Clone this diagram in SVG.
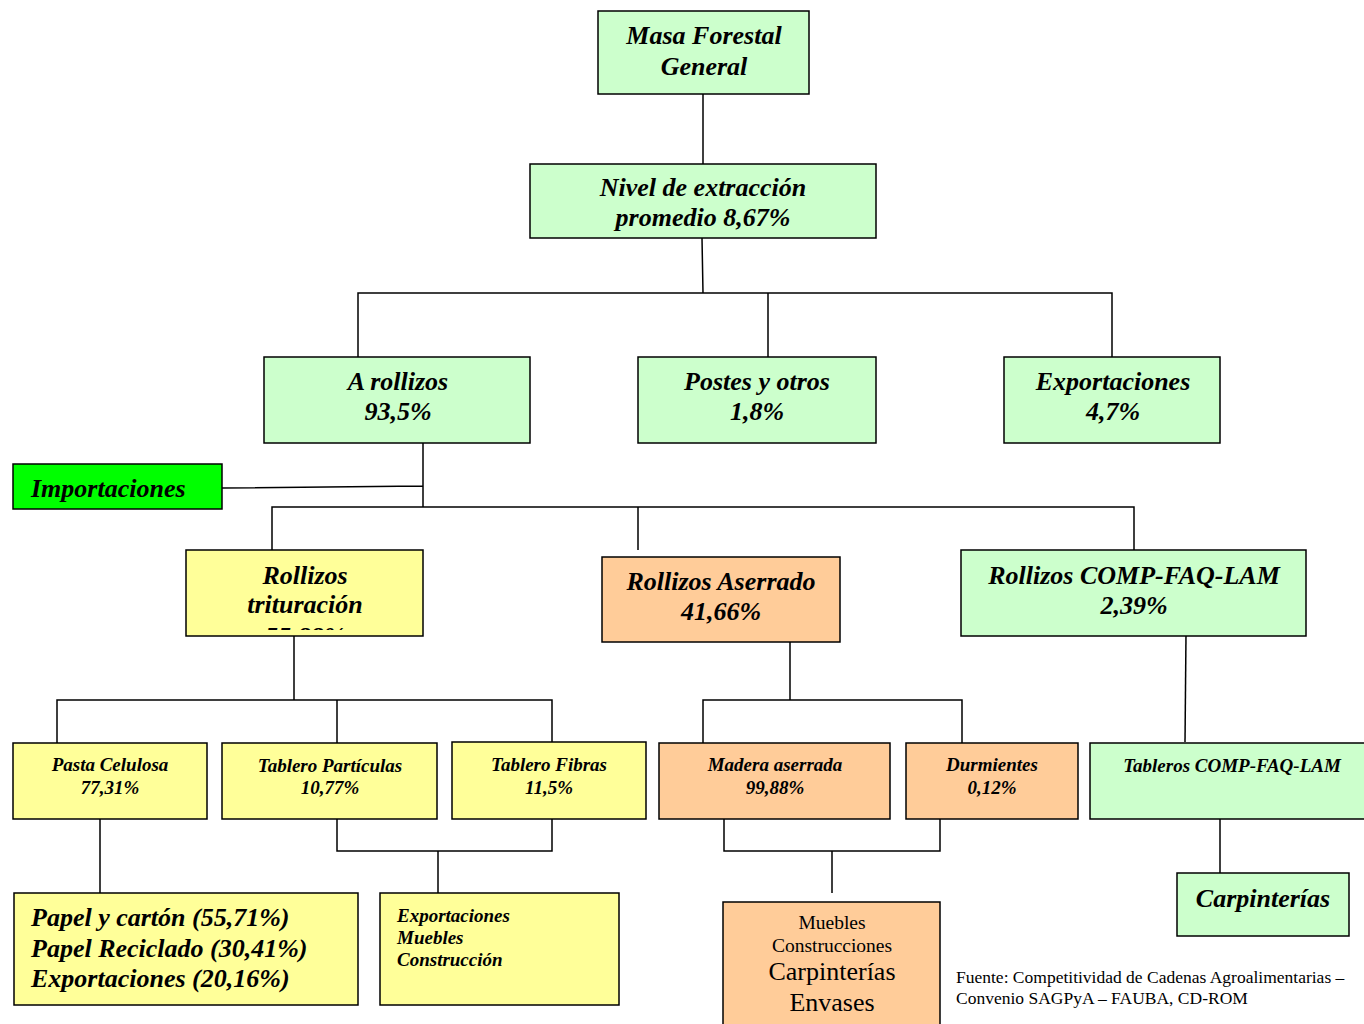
<svg xmlns="http://www.w3.org/2000/svg" width="1364" height="1024" viewBox="0 0 1364 1024">
<style>
.n{stroke:#000;stroke-width:1.5}
.g{fill:#CCFFCC}.y{fill:#FFFF99}.o{fill:#FFCC99}.b{fill:#00FF00}
.t{font-family:"Liberation Serif",serif;font-weight:bold;font-style:italic;fill:#000}
.L{font-size:26px}.S{font-size:19px}
.c{stroke:#000;stroke-width:1.5;fill:none}
.r{font-family:"Liberation Serif",serif;fill:#000}
</style>
<defs><clipPath id="clipTrit"><rect x="186" y="550" width="237" height="80"/></clipPath></defs>
<g id="connectors" class="c">
<path d="M703,94V164M702,238L703,293M358,357V293H1112V357M768,293V357"/>
<path d="M423,443V507M222,488L423,486M272,550V507H1134V550M638,507V550"/>
<path d="M294,636V700M57,743V700H552V743M337,700V743"/>
<path d="M790,637V700M703,743V700H962V743"/>
<path d="M1186,634L1185,742"/>
<path d="M100,808V893M337,808V851H552V808M438,851V893"/>
<path d="M724,808V851H940V808M832,851V893"/>
<path d="M1220,808V873"/>
</g>
<g id="masa"><rect class="n g" x="598" y="11" width="211" height="83"/><text class="t L" text-anchor="middle" x="704" y="44">Masa Forestal</text><text class="t L" text-anchor="middle" x="704" y="75">General</text></g>
<g id="nivel"><rect class="n g" x="530" y="164" width="346" height="74"/><text class="t L" text-anchor="middle" x="703" y="196">Nivel de extracción</text><text class="t L" text-anchor="middle" x="703" y="226">promedio 8,67%</text></g>
<g id="arollizos"><rect class="n g" x="264" y="357" width="266" height="86"/><text class="t L" text-anchor="middle" x="398" y="390">A rollizos</text><text class="t L" text-anchor="middle" x="398" y="420">93,5%</text></g>
<g id="postes"><rect class="n g" x="638" y="357" width="238" height="86"/><text class="t L" text-anchor="middle" x="757" y="390">Postes y otros</text><text class="t L" text-anchor="middle" x="757" y="420">1,8%</text></g>
<g id="export1"><rect class="n g" x="1004" y="357" width="216" height="86"/><text class="t L" text-anchor="middle" x="1113" y="390">Exportaciones</text><text class="t L" text-anchor="middle" x="1113" y="420">4,7%</text></g>
<g id="importaciones"><rect class="n b" x="13" y="464" width="209" height="45"/><text class="t L" x="31" y="497">Importaciones</text></g>
<g id="trituracion"><rect class="n y" x="186" y="550" width="237" height="86"/><g clip-path="url(#clipTrit)"><text class="t L" text-anchor="middle" x="305" y="584">Rollizos</text><text class="t L" text-anchor="middle" x="305" y="613">trituración</text><text class="t L" text-anchor="middle" x="305" y="645">55,88%</text></g></g>
<g id="aserrado"><rect class="n o" x="602" y="557" width="238" height="85"/><text class="t L" text-anchor="middle" x="721" y="590">Rollizos Aserrado</text><text class="t L" text-anchor="middle" x="721" y="620">41,66%</text></g>
<g id="comp"><rect class="n g" x="961" y="550" width="345" height="86"/><text class="t L" text-anchor="middle" x="1134" y="584">Rollizos COMP-FAQ-LAM</text><text class="t L" text-anchor="middle" x="1134" y="614">2,39%</text></g>
<g id="pasta"><rect class="n y" x="13" y="743" width="194" height="76"/><text class="t S" text-anchor="middle" x="110" y="771">Pasta Celulosa</text><text class="t S" text-anchor="middle" x="110" y="794">77,31%</text></g>
<g id="particulas"><rect class="n y" x="222" y="743" width="215" height="76"/><text class="t S" text-anchor="middle" x="330" y="772">Tablero Partículas</text><text class="t S" text-anchor="middle" x="330" y="794">10,77%</text></g>
<g id="fibras"><rect class="n y" x="452" y="742" width="194" height="77"/><text class="t S" text-anchor="middle" x="549" y="771">Tablero Fibras</text><text class="t S" text-anchor="middle" x="549" y="794">11,5%</text></g>
<g id="madera"><rect class="n o" x="659" y="743" width="231" height="76"/><text class="t S" text-anchor="middle" x="775" y="771">Madera aserrada</text><text class="t S" text-anchor="middle" x="775" y="794">99,88%</text></g>
<g id="durmientes"><rect class="n o" x="906" y="743" width="172" height="76"/><text class="t S" text-anchor="middle" x="992" y="771">Durmientes</text><text class="t S" text-anchor="middle" x="992" y="794">0,12%</text></g>
<g id="tableros"><rect class="n g" x="1090" y="743" width="280" height="76"/><text class="t S" text-anchor="middle" x="1232" y="772">Tableros COMP-FAQ-LAM</text></g>
<g id="papel"><rect class="n y" x="14" y="893" width="344" height="112"/><text class="t L" x="31" y="926">Papel y cartón (55,71%)</text><text class="t L" x="31" y="957">Papel Reciclado (30,41%)</text><text class="t L" x="31" y="987">Exportaciones (20,16%)</text></g>
<g id="exportmuebles"><rect class="n y" x="380" y="893" width="239" height="112"/><text class="t S" x="397" y="922">Exportaciones</text><text class="t S" x="397" y="944">Muebles</text><text class="t S" x="397" y="966">Construcción</text></g>
<g id="muebles"><rect class="n o" x="723" y="902" width="217" height="130"/><text class="r" font-size="19.5" text-anchor="middle" x="832" y="929">Muebles</text><text class="r" font-size="19.5" text-anchor="middle" x="832" y="952">Construcciones</text><text class="r" font-size="26" text-anchor="middle" x="832" y="980">Carpinterías</text><text class="r" font-size="26" text-anchor="middle" x="832" y="1011">Envases</text></g>
<g id="carpinterias"><rect class="n g" x="1177" y="873" width="172" height="63"/><text class="t L" text-anchor="middle" x="1263" y="907">Carpinterías</text></g>
<g id="fuente"><text class="r" font-size="17.5" x="956" y="983">Fuente: Competitividad de Cadenas Agroalimentarias –</text><text class="r" font-size="17.5" x="956" y="1004">Convenio SAGPyA – FAUBA, CD-ROM</text></g>
</svg>
